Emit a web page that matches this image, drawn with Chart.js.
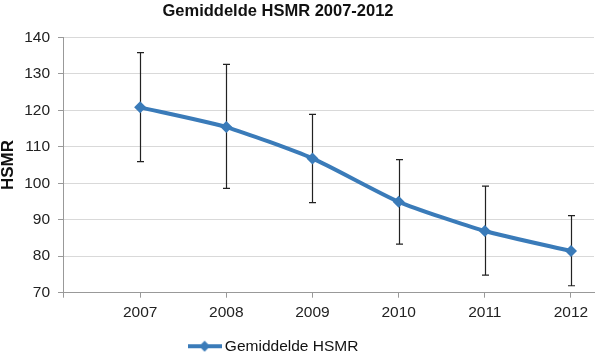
<!DOCTYPE html>
<html><head><meta charset="utf-8">
<script src="https://cdn.jsdelivr.net/npm/chart.js@4/dist/chart.umd.min.js"></script>
<style>html,body{margin:0;padding:0;background:#fff}#wrap{width:600px;height:356px}</style>
</head><body><div id="wrap"><canvas id="c" width="600" height="356"></canvas></div>
<script>
const years = [2007, 2008, 2009, 2010, 2011, 2012];
const hsmr = [120.8, 115.4, 106.8, 94.9, 86.9, 81.4];
const hsmrHigh = [135.8, 132.6, 118.9, 106.5, 99.2, 91.1];
const hsmrLow = [105.9, 98.6, 94.7, 83.3, 74.8, 71.9];
const yTicks = [70, 80, 90, 100, 110, 120, 130, 140];
const titleText = 'Gemiddelde HSMR 2007-2012';
const seriesName = 'Gemiddelde HSMR';
const yTitle = 'HSMR';

const BLUE = '#3A7BB9';
const FONT = "'Liberation Sans', Arial, sans-serif";

// legend marker: line with diamond
const legendImg = document.createElement('canvas');
legendImg.width = 34; legendImg.height = 12;
(function(){
  const g = legendImg.getContext('2d');
  g.strokeStyle = BLUE; g.lineWidth = 4;
  g.beginPath(); g.moveTo(0, 6); g.lineTo(34, 6); g.stroke();
  g.fillStyle = BLUE;
  g.beginPath(); g.moveTo(17, 0.5); g.lineTo(22.5, 6); g.lineTo(17, 11.5); g.lineTo(11.5, 6); g.closePath(); g.fill();
})();

const errorBars = {
  id: 'errorBars',
  beforeDatasetsDraw(chart) {
    const {ctx, scales: {x, y}} = chart;
    ctx.save();
    ctx.strokeStyle = '#222';
    ctx.lineWidth = 1.2;
    years.forEach((yr, i) => {
      const px = Math.round(x.getPixelForValue(yr)) + 0.5;
      const yh = y.getPixelForValue(hsmrHigh[i]);
      const yl = y.getPixelForValue(hsmrLow[i]);
      ctx.beginPath();
      ctx.moveTo(px, yh); ctx.lineTo(px, yl);
      ctx.moveTo(px - 3.5, yh); ctx.lineTo(px + 3.5, yh);
      ctx.moveTo(px - 3.5, yl); ctx.lineTo(px + 3.5, yl);
      ctx.stroke();
    });
    ctx.restore();
  }
};

const shiftBlocks = {
  id: 'shiftBlocks',
  afterLayout(chart) {
    if (chart.titleBlock) { chart.titleBlock.left = 0; chart.titleBlock.right = 556; }
    if (chart.legend) {
      chart.legend.left = 0; chart.legend.right = 550.5;
      chart.legend.top += 8; chart.legend.bottom += 8;
    }
  }
};

new Chart(document.getElementById('c'), {
  type: 'line',
  data: {
    datasets: [{
      label: seriesName,
      data: years.map((yr, i) => ({x: yr, y: hsmr[i]})),
      borderColor: BLUE,
      backgroundColor: BLUE,
      borderWidth: 4,
      tension: 0.2,
      pointStyle: 'rectRot',
      pointRadius: 6,
      pointBackgroundColor: BLUE,
      pointBorderColor: BLUE,
      pointBorderWidth: 0,
      clip: false
    }]
  },
  options: {
    responsive: false,
    devicePixelRatio: 1,
    animation: false,
    layout: {padding: 0},
    plugins: {
      title: {
        display: true,
        text: titleText,
        color: '#111',
        font: {family: FONT, size: 16.5, weight: 'bold', lineHeight: 1.2},
        padding: {top: 1.5, bottom: 16}
      },
      legend: {
        position: 'bottom',
        labels: {
          usePointStyle: true,
          pointStyle: legendImg,
          pointStyleWidth: 25,
          padding: 2,
          color: '#111',
          font: {family: FONT, size: 15.5}
        }
      },
      tooltip: {enabled: false}
    },
    scales: {
      x: {
        type: 'linear',
        min: 2006.105,
        max: 2012.267,
        afterBuildTicks(s) { s.ticks = [{value: s.min}].concat(years.map(v => ({value: v}))); },
        afterFit(s) { s.height = 356 - 292.7 - (s.chart.legend ? s.chart.legend.height : 0); },
        ticks: {
          color: '#222',
          font: {family: FONT, size: 15.5},
          padding: 6,
          maxRotation: 0,
          autoSkip: false,
          callback: (v) => years.includes(v) ? String(v) : ''
        },
        grid: {drawOnChartArea: false, drawTicks: true, tickLength: 5, tickColor: '#999'},
        border: {color: '#999', width: 1}
      },
      y: {
        min: 70,
        max: 140,
        afterBuildTicks(s) { s.ticks = yTicks.map(v => ({value: v})); },
        afterFit(s) { s.width = 63; },
        ticks: {
          color: '#222',
          font: {family: FONT, size: 15.5},
          padding: 8
        },
        grid: {color: '#d9d9d9', tickColor: '#999', tickLength: 5},
        border: {color: '#999', width: 1},
        title: {
          display: true,
          text: yTitle,
          color: '#111',
          font: {family: FONT, size: 17, weight: 'bold', lineHeight: 1},
          padding: {top: 0, bottom: 0}
        }
      }
    }
  },
  plugins: [errorBars, shiftBlocks]
});
</script>
</body></html>
